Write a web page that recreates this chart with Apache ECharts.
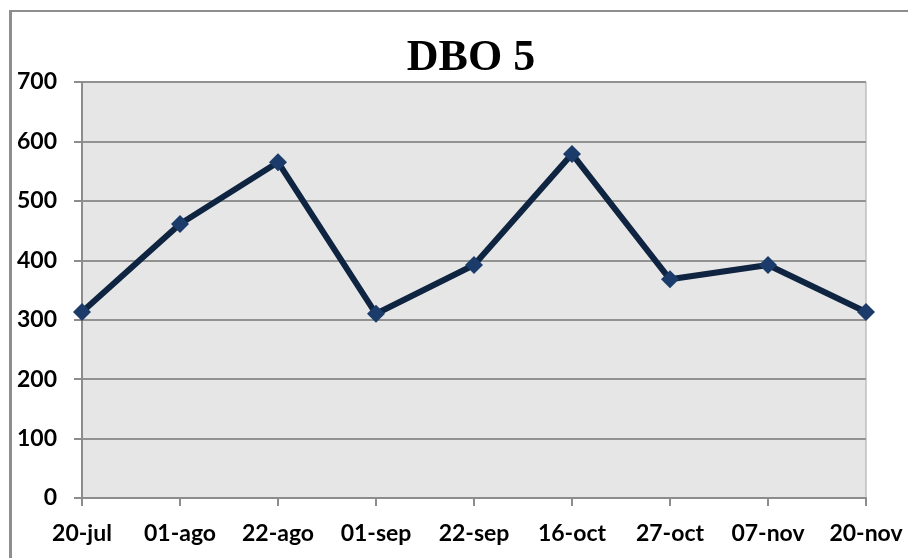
<!DOCTYPE html>
<html>
<head>
<meta charset="utf-8">
<script src="https://cdn.jsdelivr.net/npm/echarts@6/dist/echarts.min.js"></script>
<style>
  html, body { margin: 0; padding: 0; background: #fff; }
  #frame {
    position: absolute; left: 9px; top: 10px; width: 1000px; height: 1000px;
    border-left: 3px solid #8e8e8e; border-top: 2px solid #8e8e8e;
  }
  #chart { position: absolute; left: 0; top: 0; width: 908px; height: 558px; }
</style>
</head>
<body>
<div id="frame"></div>
<div id="chart"></div>
<script>
const fechas = ['20-jul', '01-ago', '22-ago', '01-sep', '22-sep', '16-oct', '27-oct', '07-nov', '20-nov']
const dbo5 = [313, 461, 565, 310, 392, 579, 368, 392, 313]

const chart = echarts.init(document.getElementById('chart'))

const labelFont = {
  fontFamily: 'Lato',
  fontWeight: 'bold',
  fontSize: 23,
  color: '#000',
}

chart.setOption({
  animation: false,
  title: {
    text: 'DBO 5',
    left: 466,
    textAlign: 'center',
    top: 32,
    textStyle: {
      fontFamily: 'Liberation Serif',
      fontWeight: 'bold',
      fontSize: 44,
      color: '#000',
    },
  },
  grid: {
    left: 82, right: 42, top: 82, bottom: 60,
    show: true,
    backgroundColor: '#e6e6e6',
    borderColor: '#a6a6a6',
    borderWidth: 1,
  },
  xAxis: {
    type: 'category',
    data: fechas,
    boundaryGap: false,
    axisLine: { lineStyle: { color: '#8c8c8c', width: 2 } },
    axisTick: { length: 8, lineStyle: { color: '#8c8c8c', width: 2 } },
    axisLabel: { ...labelFont, margin: 24 },
    splitLine: { show: false },
  },
  yAxis: {
    type: 'value',
    min: 0,
    max: 700,
    interval: 100,
    axisLine: { show: true, lineStyle: { color: '#8c8c8c', width: 2 } },
    axisTick: { show: true, length: 8, lineStyle: { color: '#8c8c8c', width: 2 } },
    axisLabel: { ...labelFont, margin: 25 },
    splitLine: { lineStyle: { color: '#929292', width: 2 } },
  },
  series: [
    {
      name: 'DBO 5',
      type: 'line',
      data: dbo5,
      lineStyle: { color: '#0e2441', width: 6 },
      symbol: 'diamond',
      symbolSize: 18,
      itemStyle: { color: '#1b3c6b' },
      z: 5,
    },
  ],
})
</script>
</body>
</html>
